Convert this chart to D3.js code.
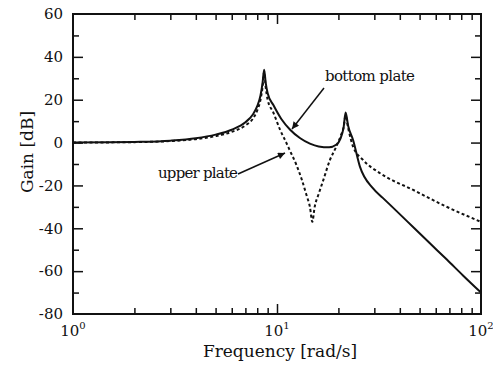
<!DOCTYPE html>
<html>
<head>
<meta charset="utf-8">
<script src="https://cdn.jsdelivr.net/npm/d3@7"></script>
<style>
  body { margin: 0; background: #fff; }
</style>
</head>
<body>
<div id="chart"></div>
<script>
// Frequency response data (rad/s, dB)
const bottomFreq = [1, 1.5, 2, 3, 4, 5, 6, 7, 7.6, 8.0, 8.3, 8.5, 8.65, 8.8, 9.0, 9.6, 10.5, 11.6, 13, 14.5, 16, 18, 19.5, 20.5, 21.2, 21.7, 22.3, 23.6, 25.5, 29.5, 33, 38.7, 47, 56, 68, 81.6, 100];
const bottomGain = [0, 0.1, 0.3, 0.9, 2.0, 3.7, 6.0, 9.5, 13, 17, 22, 28, 34, 28, 23, 17.5, 11, 6, 2, -0.5, -1.8, -2.2, -1, 2, 7, 14, 8, 1.2, -11.2, -21.3, -25.8, -32.1, -39.9, -46.9, -54.6, -62, -70];

const upperFreq = [1, 2, 3, 4, 5, 6, 7, 7.6, 8.0, 8.3, 8.5, 8.65, 8.8, 9.0, 9.6, 10.35, 11.1, 11.6, 12.4, 13.2, 14.0, 14.5, 14.9, 15.3, 16.0, 16.8, 18.2, 19.5, 20.5, 21.2, 21.7, 22.3, 23.6, 26.4, 32, 46.5, 67.6, 100];
const upperGain = [0, 0.2, 0.7, 1.6, 3.0, 5.0, 8, 11, 15, 20, 26, 33, 26, 20, 14, 6, 0, -4, -10, -17, -25, -30, -37, -30, -24, -18, -8, -2, 3, 7, 12.5, 7, -1.9, -8.1, -14.3, -22.1, -29.9, -37];

const yTickLabels = [60, 40, 20, 0, -20, -40, -60, -80];
const decades = [1, 10, 100];

const width = 493, height = 374;
const serif = "DejaVu Serif";

const svg = d3.select("#chart").append("svg")
  .attr("width", width)
  .attr("height", height)
  .attr("font-family", serif);

const x = d3.scaleLog().domain([1, 100]).range([73, 481]);
const y = d3.scaleLinear().domain([-80, 60]).range([314, 14]);

const xTicks = x.ticks().filter(d => d > 1 && d < 100);
const yTicks = d3.range(-70, 60, 10);
const isMajorX = d => decades.includes(d);
const isMajorY = d => d % 20 === 0;

// Inside ticks on all four sides
function styleTicks(g, majorFn, sign, attr) {
  g.select(".domain").remove();
  g.selectAll(".tick line")
    .attr("stroke", "#111")
    .attr("stroke-width", 1.5)
    .attr(attr, d => sign * (majorFn(d) ? 10 : 6));
}

svg.append("g")
  .attr("transform", `translate(0,${y(-80)})`)
  .call(d3.axisBottom(x).tickValues(xTicks).tickFormat("").tickSizeOuter(0))
  .call(g => styleTicks(g, isMajorX, -1, "y2"));

svg.append("g")
  .attr("transform", `translate(0,${y(60)})`)
  .call(d3.axisTop(x).tickValues(xTicks).tickFormat("").tickSizeOuter(0))
  .call(g => styleTicks(g, isMajorX, 1, "y2"));

svg.append("g")
  .attr("transform", `translate(${x(1)},0)`)
  .call(d3.axisLeft(y).tickValues(yTicks).tickFormat("").tickSizeOuter(0))
  .call(g => styleTicks(g, isMajorY, 1, "x2"));

svg.append("g")
  .attr("transform", `translate(${x(100)},0)`)
  .call(d3.axisRight(y).tickValues(yTicks).tickFormat("").tickSizeOuter(0))
  .call(g => styleTicks(g, isMajorY, -1, "x2"));

// Frame
svg.append("rect")
  .attr("x", x(1))
  .attr("y", y(60))
  .attr("width", x(100) - x(1))
  .attr("height", y(-80) - y(60))
  .attr("fill", "none")
  .attr("stroke", "#111")
  .attr("stroke-width", 2);

// Y tick labels
svg.selectAll(".ylab")
  .data(yTickLabels)
  .join("text")
  .attr("x", x(1) - 10)
  .attr("y", d => y(d))
  .attr("dy", "0.35em")
  .attr("text-anchor", "end")
  .attr("fill", "#111")
  .attr("font-size", 15)
  .text(d => d);

// X tick labels: 10^n
const xl = svg.selectAll(".xlab")
  .data(decades)
  .join("text")
  .attr("x", d => x(d))
  .attr("y", 336)
  .attr("text-anchor", "middle")
  .attr("fill", "#111")
  .attr("font-size", 15);
xl.append("tspan").text("10");
xl.append("tspan")
  .attr("dy", -7)
  .attr("font-size", 10)
  .text(d => Math.round(Math.log10(d)));

// Axis titles
svg.append("text")
  .attr("x", 280)
  .attr("y", 357)
  .attr("text-anchor", "middle")
  .attr("fill", "#111")
  .attr("font-size", 17)
  .text("Frequency [rad/s]");

svg.append("text")
  .attr("transform", `translate(33,152) rotate(-90)`)
  .attr("text-anchor", "middle")
  .attr("fill", "#111")
  .attr("font-size", 17)
  .text("Gain [dB]");

// Curves
const line = d3.line()
  .x(d => x(d[0]))
  .y(d => y(d[1]))
  .curve(d3.curveMonotoneX);

svg.append("path")
  .datum(d3.zip(upperFreq, upperGain))
  .attr("fill", "none")
  .attr("stroke", "#111")
  .attr("stroke-width", 2)
  .attr("stroke-dasharray", "3,2.5")
  .attr("d", line);

svg.append("path")
  .datum(d3.zip(bottomFreq, bottomGain))
  .attr("fill", "none")
  .attr("stroke", "#111")
  .attr("stroke-width", 2)
  .attr("d", line);

// Annotations
svg.append("defs").append("marker")
  .attr("id", "arrow")
  .attr("viewBox", "0 0 10 10")
  .attr("refX", 10)
  .attr("refY", 5)
  .attr("markerWidth", 10)
  .attr("markerHeight", 7)
  .attr("markerUnits", "userSpaceOnUse")
  .attr("orient", "auto")
  .append("path")
  .attr("d", "M0,0L10,5L0,10z")
  .attr("fill", "#111");

svg.append("text")
  .attr("x", 325)
  .attr("y", 81)
  .attr("fill", "#111")
  .attr("font-size", 15)
  .attr("textLength", 90)
  .text("bottom plate");

svg.append("line")
  .attr("x1", 324).attr("y1", 88)
  .attr("x2", 292).attr("y2", 129)
  .attr("stroke", "#111")
  .attr("stroke-width", 1.5)
  .attr("marker-end", "url(#arrow)");

svg.append("text")
  .attr("x", 158)
  .attr("y", 178)
  .attr("fill", "#111")
  .attr("font-size", 15)
  .attr("textLength", 80)
  .text("upper plate");

svg.append("line")
  .attr("x1", 238).attr("y1", 174)
  .attr("x2", 285).attr("y2", 153)
  .attr("stroke", "#111")
  .attr("stroke-width", 1.5)
  .attr("marker-end", "url(#arrow)");
</script>
</body>
</html>
